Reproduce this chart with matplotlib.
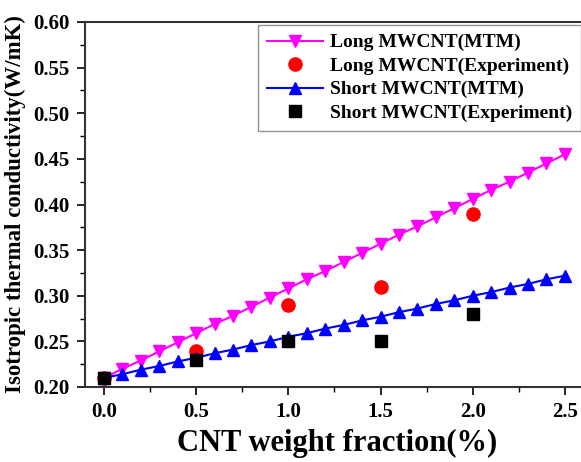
import matplotlib
matplotlib.use("Agg")
import matplotlib.pyplot as plt
from matplotlib.ticker import MultipleLocator

plt.rcParams['font.family'] = ['Liberation Serif', 'DejaVu Serif']
plt.rcParams['font.weight'] = 'bold'

x_mtm = [0.0, 0.1, 0.2, 0.3, 0.4, 0.5, 0.6, 0.7, 0.8, 0.9, 1.0, 1.1, 1.2,
         1.3, 1.4, 1.5, 1.6, 1.7, 1.8, 1.9, 2.0, 2.1, 2.2, 2.3, 2.4, 2.5]
long_mtm = [0.210, 0.220, 0.229, 0.239, 0.249, 0.259, 0.269, 0.278, 0.288, 0.298,
            0.308, 0.318, 0.327, 0.337, 0.347, 0.357, 0.367, 0.376, 0.386, 0.396,
            0.406, 0.416, 0.425, 0.435, 0.445, 0.455]
short_mtm = [0.210, 0.214, 0.219, 0.223, 0.228, 0.232, 0.237, 0.241, 0.246, 0.250,
             0.255, 0.259, 0.264, 0.268, 0.273, 0.277, 0.282, 0.286, 0.291, 0.295,
             0.300, 0.304, 0.309, 0.313, 0.318, 0.322]
x_exp = [0.0, 0.5, 1.0, 1.5, 2.0]
long_exp = [0.21, 0.24, 0.29, 0.31, 0.39]
short_exp = [0.21, 0.23, 0.25, 0.25, 0.28]

fig = plt.figure(figsize=(5.81, 4.62), dpi=100)
ax = fig.add_axes([85/581, 1-387/462, (590-85)/581, (387-22)/462])

ax.plot(x_mtm, long_mtm, color='#ff00ff', marker='v', markersize=8.5, lw=1.5,
        label='Long MWCNT(MTM)')
ax.plot(x_exp, long_exp, color='red', marker='o', markersize=9.5, ls='none',
        label='Long MWCNT(Experiment)')
ax.plot(x_mtm, short_mtm, color='blue', marker='^', markersize=8.5, lw=1.5,
        label='Short MWCNT(MTM)')
ax.plot(x_exp, short_exp, color='black', marker='s', markersize=8.5, ls='none',
        label='Short MWCNT(Experiment)')

ax.set_xlim(-0.103, 2.636)
ax.set_ylim(0.2, 0.6)
ax.xaxis.set_major_locator(MultipleLocator(0.5))
ax.xaxis.set_minor_locator(MultipleLocator(0.25))
ax.yaxis.set_major_locator(MultipleLocator(0.05))
ax.yaxis.set_minor_locator(MultipleLocator(0.025))
ax.xaxis.set_major_formatter(matplotlib.ticker.FormatStrFormatter('%.1f'))
ax.yaxis.set_major_formatter(matplotlib.ticker.FormatStrFormatter('%.2f'))
ax.tick_params(which='major', direction='out', length=6, width=1.2, labelsize=15, pad=5)
ax.tick_params(which='minor', direction='out', length=3.5, width=1.0)
for s in ax.spines.values():
    s.set_linewidth(1.5)
    s.set_color('#333333')

ax.set_xlabel('CNT weight fraction(%)', fontsize=22, fontweight='bold', labelpad=5)
ax.set_ylabel('Isotropic thermal conductivity(W/mK)', fontsize=16.5, fontweight='bold', labelpad=5)

leg = ax.legend(loc='upper left', bbox_to_anchor=((258-85)/505, 1-3/365), fontsize=14,
                frameon=True, fancybox=False, edgecolor='#777777', borderpad=0.45,
                labelspacing=0.3, handlelength=2.9, handletextpad=0.35, borderaxespad=0)
leg.get_frame().set_linewidth(1.0)

fig.savefig('out.png', dpi=100)
